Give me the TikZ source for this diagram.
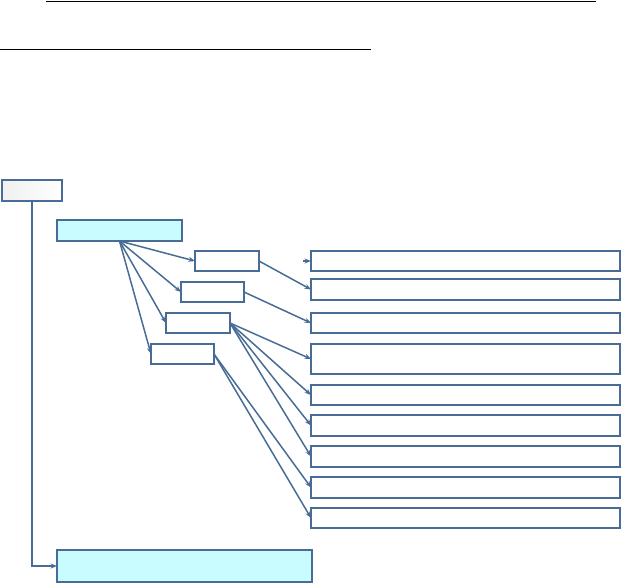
\documentclass[tikz,border=0pt]{standalone}
\usetikzlibrary{arrows.meta}
\definecolor{edge}{RGB}{72,108,150}
\definecolor{cyanfill}{RGB}{200,252,255}
\tikzset{
  x=1pt, y=-1pt,
  box/.style={draw=edge, line width=1.5pt, fill=white, inner sep=0pt, outer sep=0pt, rectangle},
  cbox/.style={box, fill=cyanfill},
  arr/.style={draw=edge, line width=1.5pt, -{Stealth[length=6.5pt,width=5pt]}},
  rule/.style={draw=black, line width=1.3pt}
}
\begin{document}
\begin{tikzpicture}
\useasboundingbox (0,0) rectangle (622,584);
% rules
\coordinate (t1) at (46,1.2);
\coordinate (t2) at (596,1.2);
\coordinate (s1) at (0,49.5);
\coordinate (s2) at (371,49.5);
\draw[rule] (t1) -- (t2);
\draw[rule] (s1) -- (s2);
% left boxes
\node[box, left color=gray!12, right color=white, minimum width=60pt, minimum height=21pt] (A) at (32,190.5) {};
\node[cbox, minimum width=125pt, minimum height=21pt] (B) at (119.5,230.5) {};
\node[box, minimum width=64pt, minimum height=20pt] (C1) at (227,261) {};
\node[box, minimum width=63pt, minimum height=20pt] (C2) at (212.5,292) {};
\node[box, minimum width=64pt, minimum height=20pt] (C3) at (198,323) {};
\node[box, minimum width=63pt, minimum height=20pt] (C4) at (182.5,354) {};
\node[cbox, minimum width=255pt, minimum height=32pt] (D) at (184.5,566) {};
% right boxes
\node[box, minimum width=309pt, minimum height=20pt] (R1) at (465.5,261) {};
\node[box, minimum width=309pt, minimum height=21pt] (R2) at (465.5,289.5) {};
\node[box, minimum width=309pt, minimum height=20pt] (R3) at (465.5,323) {};
\node[box, minimum width=309pt, minimum height=30pt] (R4) at (465.5,359) {};
\node[box, minimum width=309pt, minimum height=20pt] (R5) at (465.5,395) {};
\node[box, minimum width=309pt, minimum height=21pt] (R6) at (465.5,425.5) {};
\node[box, minimum width=309pt, minimum height=21pt] (R7) at (465.5,456.5) {};
\node[box, minimum width=309pt, minimum height=21pt] (R8) at (465.5,487.5) {};
\node[box, minimum width=309pt, minimum height=20pt] (R9) at (465.5,518) {};
% connectors
\draw[arr] (A.south) |- (D.west);
\foreach \c in {C1,C2,C3,C4} \draw[arr] (B.south) -- (\c.west);
\coordinate (stub) at (303,261);
\draw[arr] (stub) -- (R1.west);
\draw[arr] (C1.east) -- (R2.west);
\draw[arr] (C2.east) -- (R3.west);
\foreach \r in {R4,R5,R6,R7} \draw[arr] (C3.east) -- (\r.west);
\foreach \r in {R8,R9} \draw[arr] (C4.east) -- (\r.west);
\end{tikzpicture}
\end{document}
